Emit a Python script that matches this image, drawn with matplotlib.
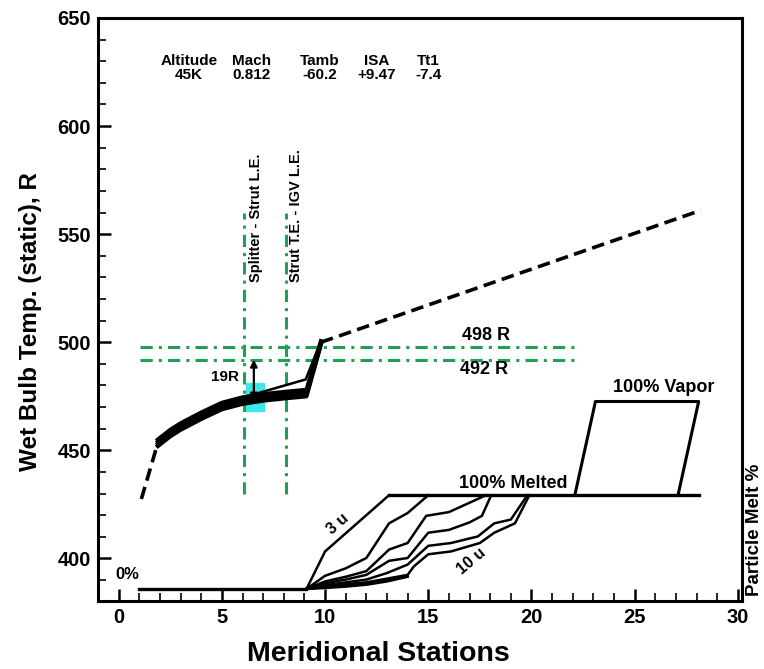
import matplotlib
matplotlib.use("Agg")
import matplotlib.pyplot as plt
from matplotlib.patches import Rectangle
from matplotlib.ticker import MultipleLocator

plt.rcParams['font.family'] = ['Liberation Sans', 'DejaVu Sans']
plt.rcParams['font.weight'] = 'bold'

# ---------------- data ----------------
# wet bulb temperature band (several overlapping traces)
band_x = [1.9, 2.5, 3.0, 4.0, 5.0, 6.0, 7.0, 8.0, 9.1, 9.8]
band_1 = [455.0, 459.5, 462.5, 467.5, 472.0, 474.5, 476.0, 477.0, 478.0, 500.5]
band_2 = [454.0, 458.5, 461.5, 466.5, 471.0, 473.5, 475.0, 476.0, 477.0, 500.0]
band_3 = [453.0, 457.5, 460.5, 465.5, 470.0, 472.5, 474.0, 475.0, 476.0, 499.5]
band_4 = [452.0, 456.5, 459.5, 464.5, 469.0, 471.5, 473.0, 474.0, 475.0, 499.0]
upper_x = [6.0, 9.06, 9.8]
upper_t = [474.4, 482.8, 500.5]
dash_lo_x = [1.1, 1.9]
dash_lo_t = [427.5, 453.5]
dash_hi_x = [9.8, 28.2]
dash_hi_t = [500.0, 561.0]

# reference lines
ref_temps = [498, 492]
ref_x_range = [1.05, 22.1]
station_lines = [6.07, 8.09]
station_t_range = [430, 560]

# particle melt curves (x = station, y = melt %)
melt_curves = [
    ([9.1, 10.0, 13.1], [0, 40, 100]),
    ([9.1, 10.0, 11.0, 12.0, 13.1, 14.0, 15.0], [0, 14, 22, 33, 70, 81, 100]),
    ([9.1, 10.0, 11.0, 12.0, 13.1, 14.0, 14.9, 16.0, 17.0, 17.8], [0, 8, 13, 19, 42, 49, 78, 82, 92, 100]),
    ([9.1, 10.0, 11.0, 12.0, 13.1, 14.0, 15.0, 16.0, 17.0, 17.6, 18.05], [0, 6, 10, 15, 30, 33, 60, 63, 71, 78, 100]),
    ([9.1, 10.0, 11.0, 12.0, 13.0, 14.0, 15.0, 16.1, 17.4, 18.2, 19.0, 19.8], [0, 4, 7, 10, 17, 26, 46, 49, 56, 70, 74, 100]),
    ([9.1, 10.0, 11.0, 12.0, 13.0, 14.0, 14.3, 15.0, 16.1, 17.5, 18.2, 19.2, 19.9], [0, 3, 5, 7, 11, 15, 24, 37, 40, 49, 60, 70, 100]),
    ([9.1, 10.0, 11.0, 12.0, 13.0, 14.0], [0, 2, 3.5, 5.5, 9, 14]),
    ([9.1, 10.0, 11.0, 12.0, 13.0, 14.0], [0, 1, 2.5, 4.5, 8, 13]),
]
melt0_x = [1.0, 9.1]
melt0_y = [0, 0]
melted_x = [13.1, 28.1]
melted_y = [100, 100]
vapor_x = [22.1, 23.1, 28.1, 27.1]
vapor_y = [100, 200, 200, 100]

header_x = [3.4, 6.46, 9.75, 12.5, 15.0]
header_lbl = ["Altitude\n45K", "Mach\n0.812", "Tamb\n-60.2", "ISA\n+9.47", "Tt1\n-7.4"]

x_ticks = [0, 5, 10, 15, 20, 25, 30]
y_ticks = [400, 450, 500, 550, 600, 650]

green = '#1fa055'
cyan = '#3ee6ea'

# ---------------- figure ----------------
fig = plt.figure(figsize=(7.64, 6.69), dpi=100)
ax = fig.add_axes([0.1283, 0.1016, 0.8429, 0.8715])
ax.set_xlim(-1.0, 30.2)
ax.set_ylim(380.3, 650)

# cyan marker box
ax.add_patch(Rectangle((6.15, 468.2), 0.89, 13.0, color=cyan, zorder=1))

# green reference lines
for t in ref_temps:
    ax.plot(ref_x_range, [t, t], color=green, lw=2.2, ls=(0, (4, 2, 1, 2)), zorder=2)
for s in station_lines:
    ax.plot([s, s], station_t_range, color=green, lw=2.2, ls=(0, (4, 2, 1, 2)), zorder=2)

# temperature band
for b in (band_1, band_2, band_3, band_4):
    ax.plot(band_x, b, color='black', lw=3.0, solid_joinstyle='round', zorder=3)
ax.plot(upper_x, upper_t, color='black', lw=1.8, zorder=3)
ax.plot(dash_lo_x, dash_lo_t, color='black', lw=2.6, ls=(0, (3.5, 1.8)), zorder=3)
ax.plot(dash_hi_x, dash_hi_t, color='black', lw=2.6, ls=(0, (3.5, 1.8)), zorder=3)

ax.annotate('', xy=(6.55, 492), xytext=(6.55, 473),
            arrowprops=dict(arrowstyle='<|-|>', color='black', lw=1.6,
                            mutation_scale=10, shrinkA=0, shrinkB=0), zorder=4)
ax.text(5.85, 484, '19R', ha='right', va='center', fontsize=11, fontweight='bold')

ax.text(17.8, 503.2, '498 R', ha='center', va='center', fontsize=13, fontweight='bold')
ax.text(17.7, 487.6, '492 R', ha='center', va='center', fontsize=13, fontweight='bold')
ax.text(6.63, 528, 'Splitter - Strut L.E.', rotation=90, ha='center', va='bottom',
        fontsize=10.5, fontweight='bold')
ax.text(8.58, 528, 'Strut T.E. - IGV L.E.', rotation=90, ha='center', va='bottom',
        fontsize=10.5, fontweight='bold')

for hx, hl in zip(header_x, header_lbl):
    ax.text(hx, 627, hl, ha='center', va='center', fontsize=11, fontweight='bold',
            linespacing=1.0)

# axes styling
for sp in ax.spines.values():
    sp.set_linewidth(2.2)
ax.set_xticks(x_ticks)
ax.set_yticks(y_ticks)
ax.xaxis.set_minor_locator(MultipleLocator(1))
ax.yaxis.set_minor_locator(MultipleLocator(10))
ax.tick_params(which='major', direction='in', length=9, width=1.8, labelsize=14.5, pad=5)
ax.tick_params(which='minor', direction='in', length=5.5, width=1.2)
ax.tick_params(top=False, right=False, which='both')
for lab in ax.get_xticklabels() + ax.get_yticklabels():
    lab.set_fontweight('bold')
ax.set_xlabel('Meridional Stations', fontsize=20.5, fontweight='bold')
ax.xaxis.set_label_coords(0.435, -0.068)
ax.set_ylabel('Wet Bulb Temp. (static), R', fontsize=17.5, fontweight='bold')
ax.yaxis.set_label_coords(-0.087, 0.479)

# particle melt axis
ax2 = ax.twinx()
ax2.set_ylim(-12.9, 609.2)
ax2.set_yticks([])
for sp in ax2.spines.values():
    sp.set_visible(False)
ax2.plot(melt0_x, melt0_y, color='black', lw=2.4)
for cx, cy in melt_curves:
    ax2.plot(cx, cy, color='black', lw=1.8, solid_joinstyle='round')
ax2.plot(melted_x, melted_y, color='black', lw=2.4)
ax2.plot(vapor_x, vapor_y, color='black', lw=2.2)
ax2.text(19.1, 113, '100% Melted', ha='center', va='center', fontsize=13, fontweight='bold')
ax2.text(26.4, 215, '100% Vapor', ha='center', va='center', fontsize=13, fontweight='bold')
ax2.text(10.6, 69, '3 u', ha='center', va='center', rotation=41, fontsize=11.5, fontweight='bold')
ax2.text(17.1, 29.6, '10 u', ha='center', va='center', rotation=40, fontsize=11.5, fontweight='bold')
ax2.text(-0.15, 15.7, '0%', ha='left', va='center', fontsize=12, fontweight='bold')
fig.text(754.5 / 764, 1 - 530 / 669, 'Particle Melt %', rotation=90, ha='center', va='center',
         fontsize=13.5, fontweight='bold')

fig.savefig('out.png', dpi=100)
